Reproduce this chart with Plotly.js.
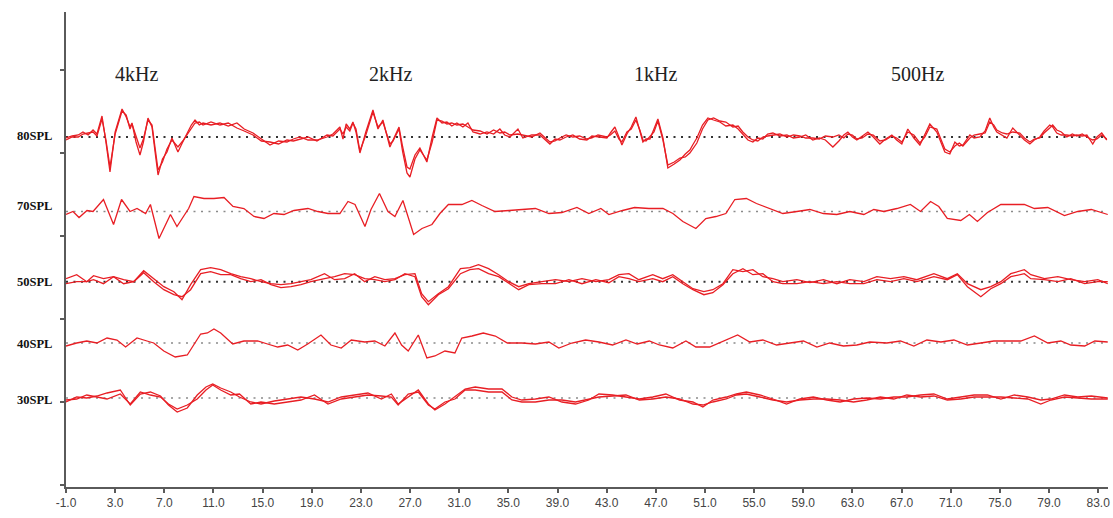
<!DOCTYPE html>
<html>
<head>
<meta charset="utf-8">
<script src="https://cdn.plot.ly/plotly-3.0.1.min.js"></script>
<style>html,body{margin:0;padding:0;background:#fff;}#chart{width:1113px;height:518px;}</style>
</head>
<body>
<div id="chart"></div>
<script>
// ---- categories / labels ----
const levelLabels = ['80SPL','70SPL','50SPL','40SPL','30SPL'];
const baselines   = [350, 275.5, 205.3, 144, 89];
const labelY      = [351, 281, 205, 143, 87];
const freqLabels  = ['4kHz','2kHz','1kHz','500Hz'];
const freqX       = [4.7, 25.4, 47.0, 68.3];
const freqY       = 413;
const xTickVals   = [-1,3,7,11,15,19,23,27,31,35,39,43,47,51,55,59,63,67,71,75,79,83];
const xTickText   = ['-1.0','3.0','7.0','11.0','15.0','19.0','23.0','27.0','31.0','35.0','39.0','43.0','47.0','51.0','55.0','59.0','63.0','67.0','71.0','75.0','79.0','83.0'];
const yTickVals   = [2, 85, 168, 251, 334, 417];

// ---- 80 SPL (two sweeps) ----
const t80 = [-1.0,-0.5,0.0,0.38,0.8,1.2,1.52,1.93,2.25,2.58,
 3.0,3.56,3.9,4.21,4.37,4.7,5.02,5.3,5.67,6.0,
 6.25,6.49,6.85,7.22,7.62,8.11,8.5,8.85,9.2,9.5,
 9.85,10.15,10.8,11.53,12.2,12.91,13.5,14.22,14.9,15.6,
 16.3,16.98,17.5,18.04,18.7,19.42,20.24,20.72,21.05,21.29,
 21.54,21.8,22.1,22.35,22.6,22.92,23.4,23.98,24.39,24.79,
 25.36,25.61,26.1,26.4,26.75,26.99,27.4,27.8,28.37,28.8,
 29.19,29.6,30.0,30.4,30.81,31.3,31.71,32.12,32.7,33.26,
 33.8,34.31,34.7,35.13,35.78,36.18,36.9,37.57,38.0,38.38,
 38.8,39.19,39.7,40.25,40.8,41.39,41.8,42.29,43.02,43.3,
 43.67,44.0,44.24,44.65,45.0,45.38,45.7,45.95,46.2,46.52,
 46.85,47.17,47.58,47.98,48.5,48.96,49.4,49.77,50.0,50.34,
 50.8,51.24,51.7,52.21,52.7,53.27,53.7,54.08,54.5,54.9,
 55.3,55.71,56.1,56.53,57.1,57.67,58.2,58.72,59.2,59.78,
 60.3,60.8,61.41,61.9,62.3,62.63,63.0,63.36,63.8,64.26,
 64.7,65.23,65.7,66.21,66.6,67.02,67.51,68.0,68.49,68.9,
 69.3,69.87,70.2,70.52,70.93,71.34,71.7,71.99,72.56,72.9,
 73.37,73.8,74.18,74.5,74.75,75.2,75.57,76.05,76.62,77.0,
 77.44,77.8,78.25,78.6,79.06,79.3,79.63,80.0,80.45,80.9,
 81.26,81.7,82.08,82.56,82.9,83.29,83.7];
const a80a = [-1,1,2,5,2,7,3,21,-5,-35,
 5,28,20,10,14,-5,-18,-5,19,10,
 -15,-38,-22,-15,-1,-15,-5,4,12,17,
 12,14,12,14,11,14,8,4,-2,-8,
 -4,-5,-2,0,-3,-3,0,3,7,10,
 -2,13,8,15,5,-16,5,27,8,17,
 -10,-3,10,-10,-30,-32,-18,-11,-25,0,
 19,14,15,11,14,10,14,5,3,5,
 3,8,2,0,8,-1,2,2,-3,-7,
 -2,-3,0,2,-2,-3,1,0,-1,4,
 10,0,-8,3,10,20,5,-5,-2,-2,
 8,18,-1,-31,-27,-23,-17,-13,-8,-1,
 12,19,17,15,11,12,8,3,-3,-5,
 -1,-2,3,4,1,2,-1,0,2,-3,
 -1,-3,-10,-4,2,5,0,-3,1,5,
 0,-7,-2,2,-3,-7,8,-1,-8,3,
 13,5,-5,-15,-17,-5,-9,-8,2,-1,
 0,6,19,10,5,2,-1,9,2,-3,
 -7,-3,0,6,12,10,4,2,2,1,
 2,1,2,-7,0,4,-3];
const a80b = [-3,0,0,3,4,5,1,18,-3,-30,
 3,26,22,8,13,0,-11,-2,17,12,
 -10,-33,-25,-12,-3,-10,-4,2,8,14,
 15,12,15,12,14,9,6,2,-4,-5,
 -7,-3,-4,-2,0,-4,2,1,5,8,
 3,10,6,14,8,-14,2,25,10,15,
 -7,-4,8,-15,-36,-40,-22,-13,-23,-5,
 17,16,13,14,12,13,10,7,6,3,
 7,4,5,2,3,2,0,4,-1,-5,
 -4,-1,2,0,1,-2,-1,2,0,2,
 6,-2,-5,5,8,17,7,-3,-4,0,
 5,16,-3,-28,-25,-21,-20,-16,-12,-6,
 8,17,19,16,15,10,11,5,0,-3,
 -4,0,1,2,3,0,2,1,-1,-1,
 -2,1,0,2,-1,3,2,-2,-1,3,
 2,-4,-3,1,-1,-5,5,2,-6,0,
 10,8,-2,-12,-15,-9,-6,-9,-1,2,
 3,4,15,12,7,4,3,5,4,-1,
 -5,-2,-1,4,9,12,7,5,0,3,
 1,3,0,-3,-2,2,-2];

// ---- 70 SPL ----
const t70 = [-1.0,-0.43,0.06,0.71,1.2,2.05,2.87,3.52,4.21,4.78,
 5.48,5.87,6.57,7.5,8.03,8.98,9.41,10.23,11.04,11.86,
 12.59,13.48,14.3,15.11,15.92,16.74,17.55,18.69,19.5,20.32,
 21.29,21.95,22.52,23.33,23.82,24.51,25.2,25.77,26.42,27.29,
 27.97,28.78,29.43,30.12,31.22,32.03,32.85,33.91,35.05,36.1,
 37.2,38.3,39.36,40.58,41.55,42.53,43.18,44.29,45.27,46.44,
 47.58,48.39,49.2,50.26,51.07,51.89,52.7,53.43,54.37,55.19,
 56.28,57.34,58.48,59.54,60.64,61.73,62.79,63.93,64.74,65.56,
 66.62,67.72,68.54,69.36,70.03,70.72,71.82,72.52,73.17,73.99,
 75.08,76.18,76.99,77.81,78.9,80.26,81.34,82.44,83.78];
const a70 = [-3,0,-6,1,0,12,-13,12,0,3,
 -2,7,-27,-3,-15,3,15,13,13,14,
 5,3,-5,-7,-2,-3,1,3,0,-2,
 -2,10,7,-15,2,18,0,-5,11,-23,
 -17,-13,-2,7,7,11,6,0,1,2,
 3,-2,-1,4,-2,3,-3,1,4,3,
 3,-2,-10,-17,-7,-5,-2,12,13,8,
 3,-2,0,2,-2,-3,0,-3,2,0,
 3,7,0,10,5,-7,-9,-3,-10,-1,
 7,7,7,3,4,-4,0,2,-3];

// ---- 50 SPL (two sweeps) ----
const t50 = [-1.0,-0.13,0.69,1.24,2.05,2.87,3.69,4.51,5.32,6.14,
 6.96,7.78,8.44,9.14,9.96,10.77,11.59,12.41,13.22,14.04,
 14.87,15.68,16.49,17.31,18.12,18.93,20.04,20.86,21.68,22.49,
 23.31,24.13,24.95,25.77,26.58,27.4,27.94,28.49,29.3,30.12,
 31.1,31.87,32.57,33.39,34.21,35.03,35.84,36.66,37.73,38.84,
 39.93,40.99,42.12,43.18,44.0,44.81,45.62,46.75,47.56,48.38,
 49.2,50.02,50.91,51.64,52.46,53.27,54.09,54.9,55.71,56.53,
 57.34,58.48,59.54,60.64,61.73,62.79,63.93,64.99,66.1,67.19,
 68.24,69.63,70.72,71.54,72.36,73.45,74.26,75.08,75.89,76.99,
 77.52,78.63,79.72,80.77,81.9,82.97,83.78];
const a50a = [3,7,0,6,3,5,-2,0,11,3,
 -5,-10,-18,-3,12,14,12,8,5,3,
 0,-2,-3,-2,0,2,8,2,3,8,
 0,5,2,3,7,8,-12,-20,-12,-5,
 13,14,17,13,7,0,-5,-2,0,2,
 0,3,0,2,7,8,2,7,3,7,
 0,-7,-10,-8,-2,12,10,12,5,3,
 0,2,-1,2,-2,2,0,5,3,5,
 2,8,3,8,-2,-8,-5,0,8,12,
 7,3,5,2,0,2,-2];
const a50b = [-2,0,0,2,-2,5,2,0,9,0,
 -8,-13,-15,-8,8,10,7,7,3,0,
 2,-3,-6,-5,-3,0,3,5,8,7,
 3,2,0,2,8,5,-15,-23,-13,-7,
 8,12,13,8,5,-2,-8,-3,-2,-2,
 2,-2,2,-1,5,3,0,3,0,5,
 -2,-8,-13,-11,-3,8,13,7,8,0,
 -2,-2,0,-2,0,-2,-2,2,0,3,
 0,5,2,7,-5,-15,-7,-2,5,8,
 3,2,0,3,-2,0,0];

// ---- 40 SPL ----
const t40 = [-1.0,-0.13,0.69,1.51,2.34,3.15,3.85,4.78,5.59,6.14,
 6.96,7.89,8.87,9.96,10.51,11.04,11.59,12.57,13.48,14.59,
 15.4,16.23,17.04,17.86,18.67,19.75,20.56,21.4,22.22,23.31,
 24.13,24.95,25.77,26.31,26.85,27.67,28.37,29.02,29.84,30.65,
 31.21,32.04,32.96,33.94,34.92,36.1,37.2,38.3,39.11,40.17,
 41.29,42.37,43.48,44.57,45.49,46.47,47.29,48.38,49.45,50.26,
 51.38,52.46,53.66,54.65,55.71,56.83,57.91,59.01,60.11,61.16,
 62.27,63.36,64.42,65.8,66.91,68.0,69.06,70.2,71.26,72.36,
 73.45,74.51,75.65,76.7,77.81,78.9,79.96,80.77,81.9,82.73,
 83.78];
const a40 = [-3,0,2,0,5,3,-4,5,2,0,
 -8,-14,-12,9,10,14,10,-1,2,2,
 -1,-4,-2,-7,-1,8,-2,-5,3,1,
 2,-3,10,-2,-8,8,-15,-13,-8,-10,
 5,7,10,7,0,0,-1,1,-5,0,
 3,1,-2,3,-1,2,-2,-5,2,-4,
 -4,2,8,1,3,-2,0,2,-4,0,
 -3,-2,1,0,2,-3,3,1,3,-2,
 0,2,2,2,7,0,2,-2,-3,2,
 1];

// ---- 30 SPL (two sweeps) ----
const t30 = [-1.0,-0.13,0.69,1.51,2.34,3.42,4.23,5.05,5.87,6.69,
 7.34,8.05,8.87,9.68,10.39,10.94,11.59,12.41,13.12,14.04,
 14.87,15.95,17.04,18.12,19.22,20.32,21.4,22.49,23.57,24.67,
 25.48,26.03,26.85,27.67,28.49,29.02,29.84,30.65,31.48,32.3,
 33.39,34.48,35.29,36.1,37.2,38.3,39.36,40.47,41.55,42.37,
 43.48,44.57,45.66,46.75,47.82,48.93,50.02,50.83,51.64,52.73,
 53.56,54.37,55.47,56.53,57.64,58.72,59.82,60.92,62.0,63.09,
 64.17,65.27,66.37,67.43,68.54,69.63,70.72,71.82,72.9,73.99,
 75.08,76.18,77.27,78.33,79.15,80.26,81.34,82.44,83.78];
const a30a = [-4,1,0,2,5,8,-7,4,6,2,
 -7,-14,-10,3,11,14,10,6,1,-4,
 -6,-3,-1,1,-1,-4,1,3,5,-1,
 4,-6,1,8,-6,-12,-6,1,9,11,
 9,9,1,-2,-1,1,-4,-6,-2,4,
 3,1,-1,1,4,-2,-4,-9,-2,1,
 4,6,3,-1,-6,-1,1,-2,-4,-1,
 0,-1,1,1,3,4,-1,1,3,3,
 -1,3,1,-2,-1,3,1,2,0];
const a30b = [-2,-1,3,1,-1,4,-6,6,3,1,
 -6,-11,-7,-1,8,13,8,3,4,-6,
 -4,-6,-4,-2,3,-6,-1,1,3,2,
 1,-7,4,6,-7,-11,-4,-1,8,8,
 6,6,-2,-4,-4,-2,-2,-4,-1,1,
 2,3,-2,-1,1,-1,-6,-7,-4,-1,
 3,4,1,-2,-4,-2,-1,-1,-2,-4,
 -2,1,-1,3,1,2,-2,-1,1,1,
 1,0,-1,-6,-2,1,0,-1,-1];

// ---- build traces ----
const rows = [
  {t: t80, sweeps: [a80a, a80b], base: baselines[0], dot: '#333', dw: 2},
  {t: t70, sweeps: [a70],        base: baselines[1], dot: '#8a8a8a', dw: 1.6},
  {t: t50, sweeps: [a50a, a50b], base: baselines[2], dot: '#333', dw: 2},
  {t: t40, sweeps: [a40],        base: baselines[3], dot: '#8a8a8a', dw: 1.6},
  {t: t30, sweeps: [a30a, a30b], base: baselines[4], dot: '#8a8a8a', dw: 1.6}
];
const traces = [];
rows.forEach(r => {
  traces.push({x: [-1, 83.6], y: [r.base, r.base], mode: 'lines', hoverinfo: 'skip',
    line: {color: r.dot, width: r.dw, dash: '2px,5.5px'}});
});
rows.forEach(r => {
  r.sweeps.forEach(a => {
    traces.push({x: r.t, y: a.map(v => r.base + v), mode: 'lines', hoverinfo: 'skip',
      line: {color: 'rgb(232,30,36)', width: 1.3}});
  });
});

const annotations = [];
levelLabels.forEach((lab, i) => {
  annotations.push({text: '<b>' + lab + '</b>', x: -1, xref: 'x', y: labelY[i], yref: 'y',
    xanchor: 'right', yanchor: 'middle', xshift: -12, showarrow: false,
    font: {family: 'Liberation Serif, Times New Roman, serif', size: 12.5, color: '#111'}});
});
freqLabels.forEach((lab, i) => {
  annotations.push({text: lab, x: freqX[i], xref: 'x', y: freqY, yref: 'y',
    xanchor: 'center', yanchor: 'middle', showarrow: false,
    font: {family: 'Liberation Serif, Times New Roman, serif', size: 20, color: '#222'}});
});

const layout = {
  width: 1113, height: 518,
  margin: {l: 66, r: 5, t: 12, b: 31, pad: 0},
  paper_bgcolor: '#fff', plot_bgcolor: '#fff',
  showlegend: false,
  xaxis: {range: [-1, 83.8], showgrid: false, zeroline: false, showline: true,
    linecolor: '#5a5a5a', linewidth: 2, ticks: 'outside', ticklen: 4, tickwidth: 2,
    tickcolor: '#5a5a5a', tickvals: xTickVals, ticktext: xTickText,
    tickfont: {family: 'Liberation Sans, Arial, sans-serif', size: 12, color: '#444'}},
  yaxis: {range: [0, 475], showgrid: false, zeroline: false, showline: true,
    linecolor: '#5a5a5a', linewidth: 2, ticks: 'outside', ticklen: 4, tickwidth: 2,
    tickcolor: '#5a5a5a', tickvals: yTickVals, showticklabels: false},
  annotations: annotations
};

Plotly.newPlot('chart', traces, layout, {staticPlot: true, displayModeBar: false});
</script>
</body>
</html>
